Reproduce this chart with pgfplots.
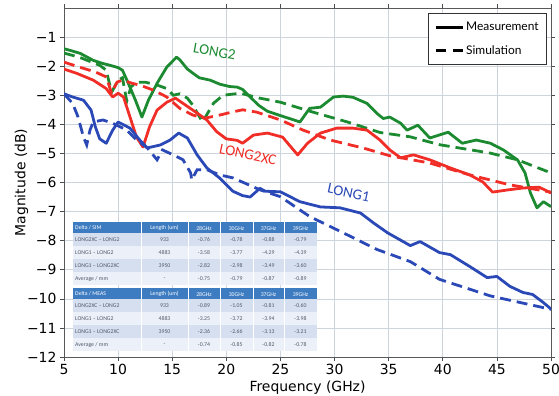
\documentclass[border=0pt]{standalone}
\usepackage{pgfplots}
\pgfplotsset{compat=1.18}
\usepackage{fontspec}
\setmainfont{DejaVu Sans}
\newfontfamily\legendfont{Lato}
\newfontfamily\labelfont{Carlito}
\newfontfamily\tabfont{Carlito}
\definecolor{cgreen}{RGB}{28,138,48}
\definecolor{cred}{RGB}{240,45,38}
\definecolor{cblue}{RGB}{42,72,182}
\definecolor{thead}{RGB}{62,124,194}
\definecolor{trowa}{RGB}{214,223,240}
\definecolor{trowb}{RGB}{236,240,248}
\definecolor{ttext}{RGB}{80,88,105}
\definecolor{gridc}{RGB}{205,212,220}

\pgfplotstableread{
f y
5.0 -1.40
5.5 -1.45
6.5 -1.56
7.7 -1.80
8.5 -1.90
9.25 -1.97
10.0 -2.05
10.4 -2.14
10.9 -2.55
11.6 -3.17
12.2 -3.75
12.8 -3.17
13.6 -2.59
14.5 -2.03
15.4 -1.69
15.7 -1.78
16.4 -2.10
16.9 -2.24
17.5 -2.40
18.5 -2.48
19.4 -2.62
20.3 -2.70
21.0 -2.72
21.5 -2.80
22.2 -3.06
23.0 -3.35
23.8 -3.55
25.0 -3.70
26.0 -3.82
26.8 -3.92
27.7 -3.45
28.7 -3.41
29.9 -3.06
30.8 -3.03
31.7 -3.07
33.0 -3.28
34.0 -3.65
34.5 -3.80
35.1 -3.75
36.1 -3.96
36.7 -4.20
37.7 -4.03
38.8 -4.47
40.5 -4.27
41.8 -4.65
43.1 -4.54
44.4 -4.65
45.6 -4.88
46.9 -5.22
47.6 -5.67
48.1 -6.36
48.7 -6.87
49.3 -6.66
50.0 -6.83
}\greenmeas

\pgfplotstableread{
f y
5.0 -1.55
6.4 -1.69
8.3 -1.97
8.9 -2.14
9.4 -2.90
10.0 -2.48
10.4 -2.40
10.8 -3.20
11.2 -2.70
11.8 -2.55
12.5 -2.55
13.6 -2.65
14.5 -2.77
15.1 -3.00
15.7 -2.95
16.4 -3.10
16.9 -3.34
17.8 -3.92
18.8 -3.28
19.7 -3.00
21.3 -2.93
23.1 -3.10
25.0 -3.24
28.0 -3.58
31.2 -3.92
34.2 -4.28
37.0 -4.43
39.7 -4.70
44.4 -4.99
46.9 -5.22
50.0 -5.67
}\greensim

\pgfplotstableread{
f y
5.0 -2.10
6.2 -2.25
7.7 -2.48
8.9 -2.77
9.5 -3.06
10.0 -2.93
10.5 -3.06
11.1 -3.75
11.7 -4.44
12.3 -4.78
12.9 -4.09
13.6 -3.51
14.5 -3.24
15.3 -3.10
16.0 -3.28
16.9 -3.51
18.2 -3.85
19.1 -4.25
20.0 -4.50
21.0 -4.55
21.5 -4.65
22.5 -4.37
23.8 -4.30
25.2 -4.44
26.2 -4.88
26.6 -5.05
27.5 -4.65
28.7 -4.30
30.2 -4.13
31.7 -4.13
33.0 -4.20
34.2 -4.54
35.1 -4.88
36.1 -5.15
37.3 -5.05
38.8 -5.22
40.7 -5.50
42.5 -5.74
43.7 -5.98
44.6 -6.33
45.9 -6.26
47.4 -6.19
48.9 -6.16
50.0 -6.36
}\redmeas

\pgfplotstableread{
f y
5.0 -1.86
6.4 -2.03
7.9 -2.20
8.9 -2.37
9.4 -2.93
9.9 -2.55
10.4 -2.48
11.3 -2.59
12.0 -2.65
13.3 -2.83
14.5 -3.06
15.7 -3.45
16.9 -3.68
18.0 -3.79
19.4 -3.68
20.5 -3.58
21.5 -3.50
22.8 -3.58
25.0 -3.85
27.1 -4.20
29.6 -4.54
32.7 -4.82
35.1 -5.08
38.8 -5.33
42.5 -5.74
46.2 -6.08
50.0 -6.33
}\redsim

\pgfplotstableread{
f y
5.0 -2.95
5.8 -3.06
6.8 -3.17
7.5 -3.51
7.9 -4.09
8.3 -4.50
8.9 -4.65
9.5 -4.20
10.0 -3.92
11.1 -4.13
12.0 -4.54
12.7 -4.81
13.9 -4.71
14.8 -4.54
15.6 -4.30
16.4 -4.47
17.3 -5.05
18.2 -5.50
19.4 -5.85
20.6 -6.30
21.5 -6.45
22.2 -6.50
23.1 -6.20
23.6 -6.30
25.0 -6.32
26.8 -6.66
28.7 -6.84
30.5 -6.87
32.4 -7.05
33.6 -7.39
34.9 -7.73
37.0 -8.17
37.9 -8.03
39.7 -8.41
40.7 -8.48
42.5 -8.89
44.1 -9.27
45.0 -9.23
46.2 -9.57
47.4 -9.78
48.3 -9.85
49.3 -10.13
50.0 -10.35
}\bluemeas

\pgfplotstableread{
f y
5.0 -2.95
5.8 -3.28
6.3 -3.75
6.8 -4.44
7.1 -4.71
7.4 -4.20
7.7 -3.92
8.6 -3.85
9.5 -3.96
10.8 -4.20
11.7 -4.54
12.7 -4.81
13.6 -5.22
14.1 -4.88
15.1 -5.05
16.0 -5.22
16.7 -5.67
16.8 -5.91
17.3 -5.56
18.2 -5.56
19.4 -5.74
20.6 -5.84
23.1 -6.25
25.0 -6.49
27.7 -7.17
30.8 -7.73
33.9 -8.30
37.0 -8.72
39.7 -9.33
44.4 -9.90
50.0 -10.36
}\bluesim

\newcommand{\tabrow}[8]{%
  \fill[#2] (73,#1) rectangle (317,#1+13);
  \node[anchor=west] at (75,#1+6.5) {#3};
  \node at (164.5,#1+6.5) {#4};
  \node at (204,#1+7) {#5};
  \node at (236.5,#1+7) {#6};
  \node at (268.5,#1+7) {#7};
  \node at (300.5,#1+7) {#8};
}
\newcommand{\tabhead}[2]{%
  \fill[thead] (73,#1) rectangle (317,#1+11);
  \node[anchor=west, text=white] at (75,#1+5.5) {#2};
  \node[text=white] at (164.5,#1+5.5) {Length (um)};
  \node[text=white] at (204,#1+6.5) {28GHz};
  \node[text=white] at (236.5,#1+6.5) {30GHz};
  \node[text=white] at (268.5,#1+6.5) {37GHz};
  \node[text=white] at (300.5,#1+6.5) {39GHz};
}
\newcommand{\tabsep}[2]{%
  \foreach \cx in {141,188,220,253,284} {\draw[white, line width=0.8pt] (\cx,#1) -- (\cx,#2);}
}

\begin{document}
\begin{tikzpicture}
\begin{axis}[
  scale only axis,
  width=487bp, height=349bp,
  xmin=5, xmax=50, ymin=-12, ymax=0,
  xtick={5,10,...,50},
  ytick={-12,-11,...,-1},
  yticklabels={−12,−11,−10,−9,−8,−7,−6,−5,−4,−3,−2,−1},
  /pgf/number format/assume math mode=true,
  tick align=outside,
  major tick length=4bp,
  tick style={black!70, line width=0.6pt},
  grid=major,
  grid style={gridc, line width=0.6pt},
  axis line style={black!65, line width=0.8pt},
  ticklabel style={font=\fontsize{14}{16}\selectfont},
  label style={font=\fontsize{14}{16}\selectfont},
  xlabel={Frequency (GHz)},
  ylabel={Magnitude (dB)},
  xlabel style={yshift=1bp},
  ylabel style={yshift=-8bp},
  legend style={at={(axis description cs:0.992,0.986)}, anchor=north east,
    draw=black!80, line width=1.1pt, fill=white,
    font=\fontsize{12}{14}\selectfont\legendfont,
    inner xsep=6pt, inner ysep=7pt, row sep=9pt},
  legend cell align=left,
  legend image code/.code={\draw[#1, line width=2.4pt] (0bp,0bp) -- (27bp,0bp);},
]
\coordinate (O) at (rel axis cs:0,0);
\addplot[cgreen, line width=2.8pt, line join=round, forget plot] table[x=f,y=y] {\greenmeas};
\addplot[cgreen, line width=2.8pt, dash pattern=on 11pt off 6pt, forget plot] table[x=f,y=y] {\greensim};
\addplot[cred, line width=2.8pt, line join=round, forget plot] table[x=f,y=y] {\redmeas};
\addplot[cred, line width=2.8pt, dash pattern=on 11pt off 6pt, forget plot] table[x=f,y=y] {\redsim};
\addplot[cblue, line width=2.8pt, line join=round, forget plot] table[x=f,y=y] {\bluemeas};
\addplot[cblue, line width=2.8pt, dash pattern=on 11pt off 6pt, forget plot] table[x=f,y=y] {\bluesim};
\addlegendimage{black}
\addlegendentry{Measurement}
\addlegendimage{black, dash pattern=on 10pt off 7pt}
\addlegendentry{Simulation}
\node[cgreen, rotate=-10, font=\fontsize{15}{17}\selectfont\labelfont] at (axis cs:18.9,-1.5) {LONG2};
\node[cred, rotate=-12, font=\fontsize{15}{17}\selectfont\labelfont] at (axis cs:22.0,-5.05) {LONG2XC};
\node[cblue, rotate=-12, font=\fontsize{15}{17}\selectfont\labelfont] at (axis cs:31.3,-6.35) {LONG1};
\end{axis}
\begin{scope}[shift={(O)}, xshift=-64bp, yshift=357bp, x=1bp, y=-1bp,
  every node/.style={font=\fontsize{5.8}{6}\selectfont\tabfont, text=ttext, inner sep=0pt}]
  \tabhead{222}{Delta / SIM}
  \tabrow{233}{trowa}{LONG2XC – LONG2}{933}{-0.76}{-0.78}{-0.88}{-0.79}
  \tabrow{246}{trowb}{LONG1 – LONG2}{4883}{-3.58}{-3.77}{-4.29}{-4.39}
  \tabrow{259}{trowa}{LONG1 – LONG2XC}{3950}{-2.82}{-2.98}{-3.49}{-3.60}
  \tabrow{272}{trowb}{Average / mm}{-}{-0.75}{-0.79}{-0.87}{-0.89}
  \tabsep{222}{285}
  \tabhead{288}{Delta / MEAS}
  \tabrow{299}{trowa}{LONG2XC – LONG2}{933}{-0.89}{-1.05}{-0.81}{-0.60}
  \tabrow{312}{trowb}{LONG1 – LONG2}{4883}{-3.25}{-3.72}{-3.94}{-3.98}
  \tabrow{325}{trowa}{LONG1 – LONG2XC}{3950}{-2.36}{-2.66}{-3.13}{-3.21}
  \tabrow{338}{trowb}{Average / mm}{-}{-0.74}{-0.85}{-0.82}{-0.78}
  \tabsep{288}{351}
  \pgfresetboundingbox
  \path[use as bounding box] (0,0) rectangle (559,395);
\end{scope}
\end{tikzpicture}
\end{document}
